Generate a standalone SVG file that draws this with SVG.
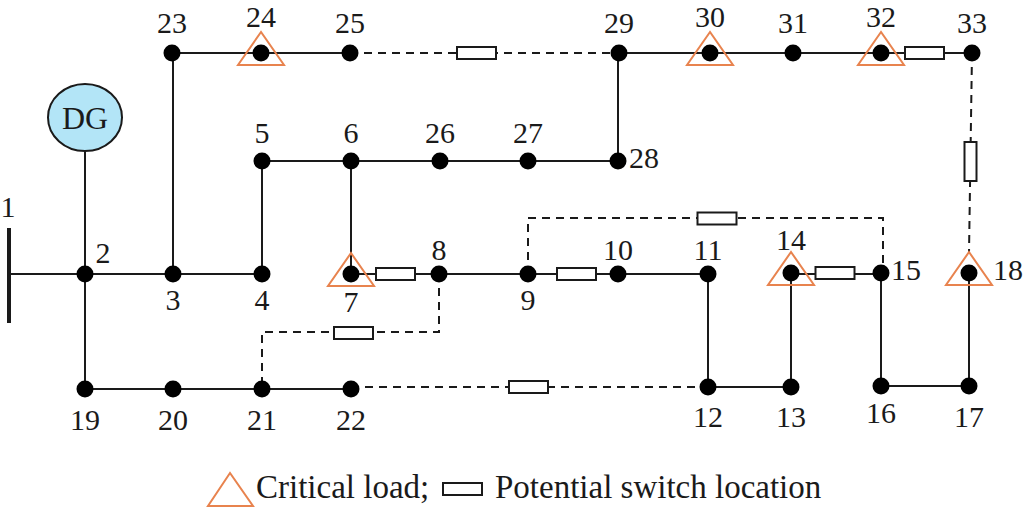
<svg xmlns="http://www.w3.org/2000/svg" width="1024" height="509" viewBox="0 0 1024 509" font-family="'Liberation Serif', 'Times New Roman', 'DejaVu Serif', serif">
<style>
.ln{stroke:#1a1a1a;stroke-width:2;fill:none}
.ds{stroke:#1a1a1a;stroke-width:2;fill:none;stroke-dasharray:8,6}
.sw{fill:#fff;stroke:#1a1a1a;stroke-width:2}
.tri{fill:none;stroke:#E8834E;stroke-width:2}
.dot{fill:#000}
text{font-family:'Liberation Serif','Times New Roman','DejaVu Serif',serif;font-size:30px;fill:#1a1a1a}
.m{text-anchor:middle}
.lg{font-size:33px}
</style>
<defs>
<circle id="d" r="8.5" class="dot"/>
<polygon id="t" points="0,-21 -23,12 23,12" class="tri"/>
<rect id="s" x="-19.5" y="-6" width="39" height="12" class="sw"/>
<rect id="sv" x="-6" y="-19.5" width="12" height="39" class="sw"/>
</defs>
<g id="connectors">
<line x1="9" y1="228" x2="9" y2="323" stroke="#1a1a1a" stroke-width="4"/>
<path class="ln" d="M9,274 H262"/>
<path class="ln" d="M85,151 V389 H351"/>
<path class="ln" d="M173,274 V53 H350"/>
<path class="ln" d="M262,274 V161 H618 V53 H972"/>
<path class="ln" d="M351,161 V274 H708 V387 H791 V274 H881 V386 H969 V274"/>
<path class="ds" d="M350,53 H619"/>
<path class="ds" d="M972,53 L969,253"/>
<path class="ds" d="M528,274 V218 H883 V274"/>
<path class="ds" d="M439,274 V332 H262 V389"/>
<path class="ds" d="M351,387 H708"/>
</g>
<g id="switches">
<use href="#s" x="476.5" y="53"/>
<use href="#s" x="924.5" y="53"/>
<use href="#sv" x="970.5" y="161.5"/>
<use href="#s" x="717" y="218.5"/>
<use href="#s" x="395.5" y="274"/>
<use href="#s" x="576.5" y="274"/>
<use href="#s" x="835" y="273"/>
<use href="#s" x="353.5" y="333"/>
<use href="#s" x="528.5" y="387"/>
</g>
<g id="DG"><ellipse cx="85" cy="117.5" rx="37" ry="33.5" fill="#B3E5F7" stroke="#1a1a1a" stroke-width="2"/><text x="85" y="129" class="m" style="font-size:32px">DG</text></g>
<g id="n1"><text x="8" y="217" class="m">1</text></g>
<g id="n2"><use href="#d" x="85" y="274"/><text x="103" y="263" class="m">2</text></g>
<g id="n3"><use href="#d" x="173" y="274"/><text x="173" y="310" class="m">3</text></g>
<g id="n4"><use href="#d" x="262" y="274"/><text x="262" y="310" class="m">4</text></g>
<g id="n5"><use href="#d" x="262" y="161"/><text x="262" y="143" class="m">5</text></g>
<g id="n6"><use href="#d" x="351" y="161"/><text x="351" y="143" class="m">6</text></g>
<g id="n7"><use href="#d" x="351" y="274"/><use href="#t" x="351" y="274"/><text x="351" y="312" class="m">7</text></g>
<g id="n8"><use href="#d" x="439" y="274"/><text x="439" y="260" class="m">8</text></g>
<g id="n9"><use href="#d" x="528" y="274"/><text x="528" y="310" class="m">9</text></g>
<g id="n10"><use href="#d" x="618" y="274"/><text x="618" y="260" class="m">10</text></g>
<g id="n11"><use href="#d" x="708" y="274"/><text x="708" y="260" class="m">11</text></g>
<g id="n12"><use href="#d" x="708" y="387"/><text x="708" y="427" class="m">12</text></g>
<g id="n13"><use href="#d" x="791" y="387"/><text x="791" y="427" class="m">13</text></g>
<g id="n14"><use href="#d" x="791" y="273"/><use href="#t" x="791" y="273"/><text x="791" y="250" class="m">14</text></g>
<g id="n15"><use href="#d" x="881" y="273"/><text x="891" y="280">15</text></g>
<g id="n16"><use href="#d" x="881" y="386"/><text x="881" y="423" class="m">16</text></g>
<g id="n17"><use href="#d" x="969" y="386"/><text x="969" y="427" class="m">17</text></g>
<g id="n18"><use href="#d" x="969" y="273"/><use href="#t" x="969" y="273"/><text x="993" y="280">18</text></g>
<g id="n19"><use href="#d" x="85" y="389"/><text x="85" y="430" class="m">19</text></g>
<g id="n20"><use href="#d" x="173" y="389"/><text x="173" y="430" class="m">20</text></g>
<g id="n21"><use href="#d" x="262" y="389"/><text x="262" y="430" class="m">21</text></g>
<g id="n22"><use href="#d" x="351" y="389"/><text x="351" y="430" class="m">22</text></g>
<g id="n23"><use href="#d" x="172" y="53"/><text x="172" y="33" class="m">23</text></g>
<g id="n24"><use href="#d" x="261" y="53"/><use href="#t" x="261" y="53"/><text x="261" y="27" class="m">24</text></g>
<g id="n25"><use href="#d" x="350" y="53"/><text x="350" y="33" class="m">25</text></g>
<g id="n26"><use href="#d" x="440" y="161"/><text x="440" y="143" class="m">26</text></g>
<g id="n27"><use href="#d" x="528" y="161"/><text x="528" y="143" class="m">27</text></g>
<g id="n28"><use href="#d" x="618" y="161"/><text x="629" y="168">28</text></g>
<g id="n29"><use href="#d" x="619" y="53"/><text x="619" y="33" class="m">29</text></g>
<g id="n30"><use href="#d" x="710" y="53"/><use href="#t" x="710" y="53"/><text x="710" y="27" class="m">30</text></g>
<g id="n31"><use href="#d" x="793" y="53"/><text x="793" y="33" class="m">31</text></g>
<g id="n32"><use href="#d" x="881" y="53"/><use href="#t" x="881" y="53"/><text x="881" y="27" class="m">32</text></g>
<g id="n33"><use href="#d" x="972" y="53"/><text x="972" y="33" class="m">33</text></g>
<g id="legend">
<polygon points="230,473 208,506 253,506" class="tri"/>
<text x="256" y="498" class="lg">Critical load;</text>
<rect x="443" y="483" width="39" height="12" class="sw"/>
<text x="495" y="498" class="lg">Potential switch location</text>
</g>
</svg>
